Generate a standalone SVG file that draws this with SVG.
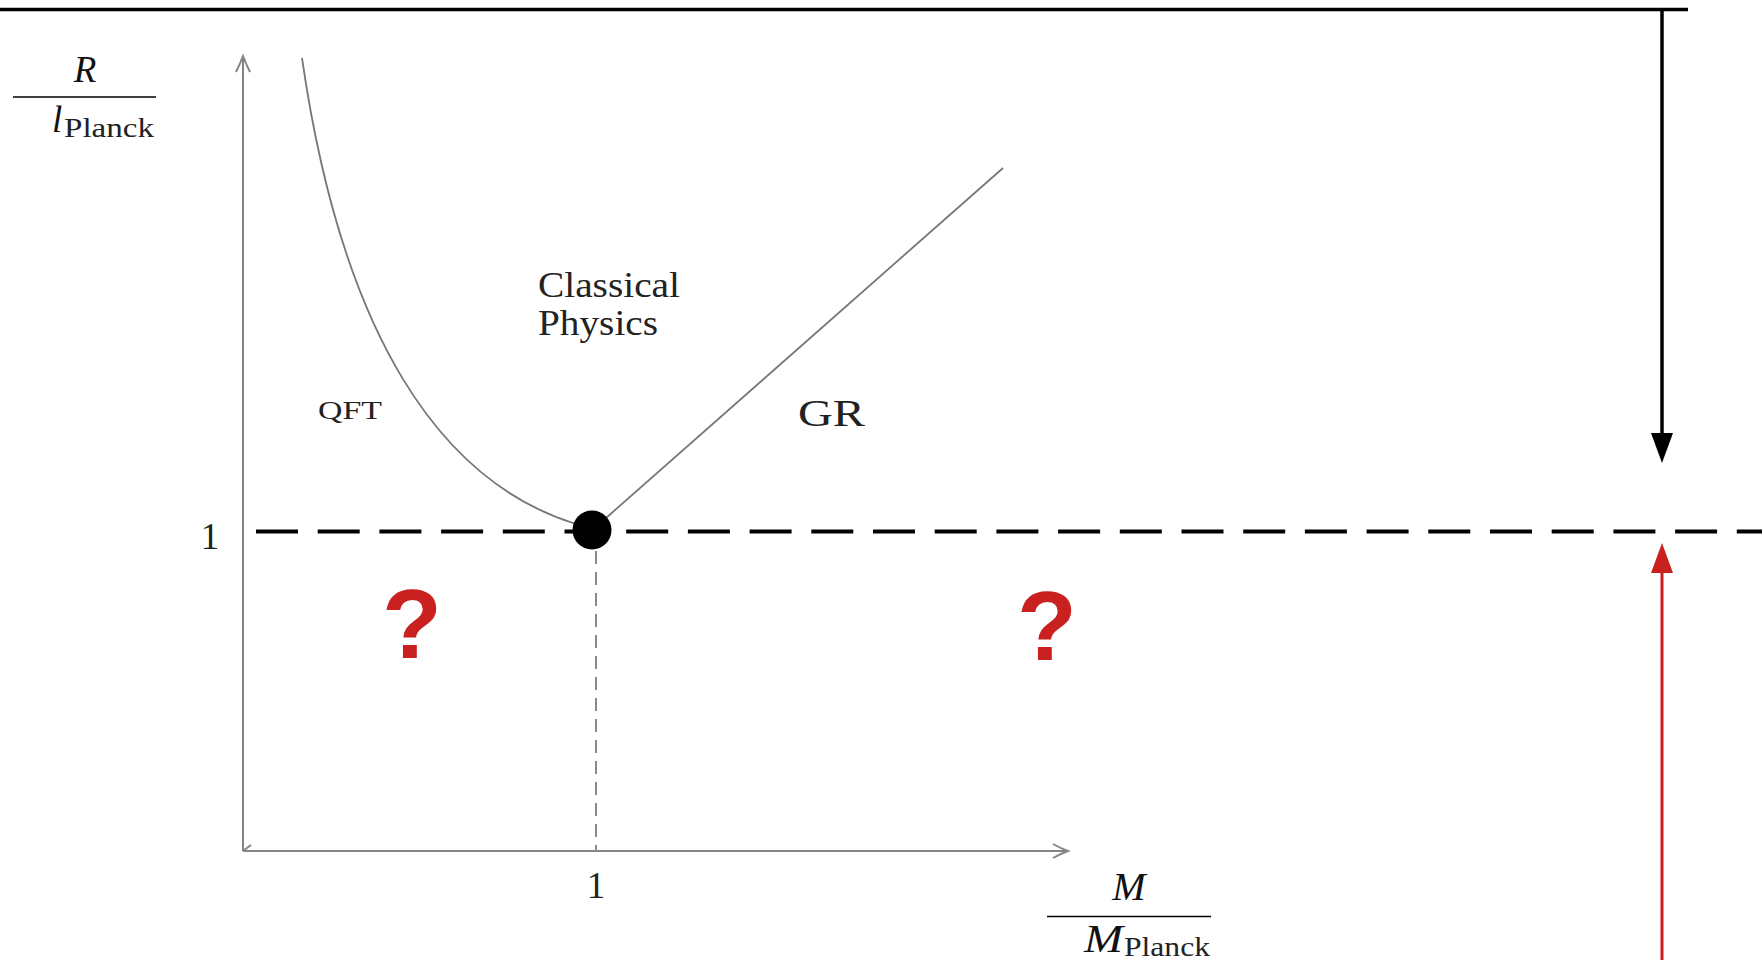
<svg xmlns="http://www.w3.org/2000/svg" width="1762" height="960" viewBox="0 0 1762 960">
  <style>
    .serif { font-family: "Liberation Serif", "DejaVu Serif", serif; fill: #222; }
    .ital { font-family: "Liberation Serif", "DejaVu Serif", serif; font-style: italic; fill: #111; }
    .q { font-family: "Liberation Sans", Arial, sans-serif; font-weight: bold; font-size: 98px; fill: #C9211F; text-anchor: middle; }
    .axis { stroke: #858585; stroke-width: 2; fill: none; }
    .curve { stroke: #777; stroke-width: 1.8; fill: none; }
    .frac { stroke: #000; stroke-width: 1.6; }
  </style>
  <defs>
    <marker id="ahBlack" viewBox="0 0 30 22" refX="0" refY="11" markerWidth="30" markerHeight="22" markerUnits="userSpaceOnUse" orient="auto">
      <path d="M0,0 L30,11 L0,22 z" fill="#000"/>
    </marker>
    <marker id="ahRed" viewBox="0 0 30 22" refX="0" refY="11" markerWidth="30" markerHeight="22" markerUnits="userSpaceOnUse" orient="auto">
      <path d="M0,0 L30,11 L0,22 z" fill="#C9211F"/>
    </marker>
  </defs>

  <rect width="1762" height="960" fill="#fff"/>

  <g id="plot-axes">
    <line class="axis" x1="243" y1="851" x2="243" y2="58"/>
    <path class="axis" d="M236,72 Q240,64 243,56 Q246,64 250,72" stroke-width="1.6"/>
    <line class="axis" x1="243" y1="851" x2="1067" y2="851"/>
    <path class="axis" d="M1053,844 Q1060,848 1068,851 Q1060,854 1053,858" stroke-width="1.6"/>
    <path class="axis" d="M243,851 L251,845" stroke-width="1.2"/>
  </g>

  <g id="qft-curve">
    <path class="curve" d="M302,58 C342,335 440,482 576,524"/>
  </g>
  <g id="gr-line">
    <line class="curve" x1="606" y1="518" x2="1003" y2="168"/>
  </g>

  <g id="planck-dashed-line">
    <line x1="256" y1="531.5" x2="1762" y2="531.5" stroke="#000" stroke-width="3.8" stroke-dasharray="42 19.7"/>
  </g>
  <g id="mass-dashed-line">
    <line x1="596" y1="551" x2="596" y2="851" stroke="#8a8a8a" stroke-width="2" stroke-dasharray="13 8"/>
  </g>

  <g id="planck-point">
    <circle cx="592" cy="530" r="19.5" fill="#000"/>
  </g>

  <g id="y-label">
    <text class="ital" x="85" y="82" font-size="37" text-anchor="middle">R</text>
    <line class="frac" x1="13" y1="97" x2="156" y2="97"/>
    <text class="ital" x="52" y="132" font-size="37">l</text>
    <text class="serif" x="64" y="137" font-size="27" fill="#111" textLength="90" lengthAdjust="spacingAndGlyphs">Planck</text>
  </g>

  <g id="x-label">
    <text class="ital" x="1129" y="900" font-size="40" text-anchor="middle">M</text>
    <line class="frac" x1="1047" y1="916.5" x2="1211" y2="916.5"/>
    <text class="ital" x="1084" y="952" font-size="40" textLength="39" lengthAdjust="spacingAndGlyphs">M</text>
    <text class="serif" x="1124" y="956" font-size="27" fill="#111" textLength="86" lengthAdjust="spacingAndGlyphs">Planck</text>
  </g>

  <g id="tick-labels">
    <text class="serif" x="210" y="549" font-size="37" text-anchor="middle">1</text>
    <text class="serif" x="596" y="898" font-size="37" text-anchor="middle">1</text>
  </g>

  <g id="label-classical">
    <text class="serif" x="538" y="297" font-size="35" textLength="142" lengthAdjust="spacingAndGlyphs">Classical</text>
    <text class="serif" x="538" y="335" font-size="35" textLength="120" lengthAdjust="spacingAndGlyphs">Physics</text>
  </g>
  <g id="label-qft">
    <text class="serif" x="318" y="419" font-size="26" textLength="64" lengthAdjust="spacingAndGlyphs">QFT</text>
  </g>
  <g id="label-gr">
    <text class="serif" x="798" y="426" font-size="37" textLength="67" lengthAdjust="spacingAndGlyphs">GR</text>
  </g>

  <g id="question-left">
    <text class="q" x="412" y="658">?</text>
  </g>
  <g id="question-right">
    <text class="q" x="1047" y="660">?</text>
  </g>

  <g id="connectors">
    <line x1="0" y1="9.5" x2="1688" y2="9.5" stroke="#000" stroke-width="3.5"/>
    <line x1="1662" y1="9.5" x2="1662" y2="433" stroke="#000" stroke-width="3.5" marker-end="url(#ahBlack)"/>
    <line x1="1662" y1="960" x2="1662" y2="573" stroke="#C9211F" stroke-width="3" marker-end="url(#ahRed)"/>
  </g>
</svg>
